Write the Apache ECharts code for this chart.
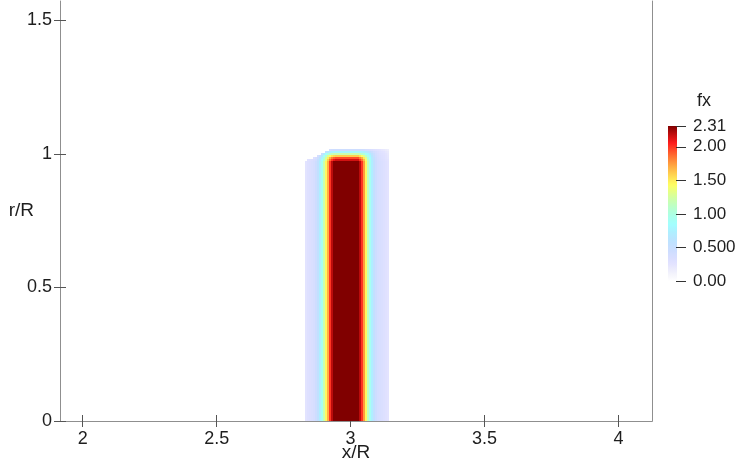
<!DOCTYPE html>
<html>
<head>
<meta charset="utf-8">
<script src="https://cdn.jsdelivr.net/npm/echarts@6/dist/echarts.min.js"></script>
<style>
  html, body { margin: 0; padding: 0; background: #ffffff; }
  #chart { width: 740px; height: 465px; }
</style>
</head>
<body>
<div id="chart"></div>
<script>
// x/R edges of the mesh columns crossed by the jet
const xEdges = [
  2.8300, 2.8375, 2.8450, 2.8525, 2.8600, 2.8675, 2.8750, 2.8825, 2.8900, 2.8975,
  2.9050, 2.9125, 2.9200, 2.9275, 2.9350, 2.9425, 2.9500, 2.9575, 2.9650, 2.9725,
  2.9800, 2.9875, 2.9950, 3.0025, 3.0100, 3.0175, 3.0250, 3.0325, 3.0400, 3.0475,
  3.0550, 3.0625, 3.0700, 3.0775, 3.0850, 3.0925, 3.1000, 3.1075, 3.1150, 3.1225,
  3.1300, 3.1375, 3.1450
];

// fx in each column, from the axis (r/R = 0) up to bodyTop
const bodyTop = 0.975;
const fxColumns = [
  0.26, 0.30, 0.32, 0.34, 0.37, 0.44, 0.55, 0.72, 0.92, 1.20, 1.45, 1.70, 2.00, 2.20,
  2.31, 2.31, 2.31, 2.31, 2.31, 2.31, 2.31, 2.31, 2.31, 2.31, 2.31, 2.31, 2.31,
  2.20, 2.00, 1.75, 1.45, 1.15, 0.92, 0.72, 0.55, 0.44, 0.38, 0.35, 0.33, 0.31, 0.28, 0.25
];

// r/R edges of the rows at the tip of the jet
const capEdges = [0.975, 0.9825, 0.990, 0.9975, 1.005, 1.0125, 1.020];

// fx in the tip rows (bottom row first); null = outside the mesh
const fxCap = [
  [null, 0.28, 0.30, 0.32, 0.35, 0.41, 0.52, 0.67, 0.86, 1.10, 1.35, 1.60, 1.85, 2.00,
   2.10, 2.15, 2.15, 2.15, 2.15, 2.15, 2.15, 2.15, 2.15, 2.15, 2.15, 2.15, 2.15,
   2.00, 1.85, 1.65, 1.40, 1.10, 0.90, 0.70, 0.54, 0.43, 0.37, 0.34, 0.32, 0.30, 0.27, 0.24],
  [null, null, null, null, 0.30, 0.36, 0.46, 0.60, 0.78, 1.00, 1.25, 1.48, 1.68, 1.82,
   1.90, 1.95, 1.95, 1.95, 1.95, 1.95, 1.95, 1.95, 1.95, 1.95, 1.95, 1.95, 1.95,
   1.82, 1.70, 1.50, 1.30, 1.05, 0.85, 0.68, 0.53, 0.42, 0.36, 0.33, 0.31, 0.29, 0.26, 0.23],
  [null, null, null, null, null, null, 0.38, 0.50, 0.66, 0.88, 1.08, 1.28, 1.42, 1.52,
   1.57, 1.60, 1.60, 1.60, 1.60, 1.60, 1.60, 1.60, 1.60, 1.60, 1.60, 1.60, 1.60,
   1.52, 1.42, 1.30, 1.12, 0.95, 0.80, 0.64, 0.50, 0.41, 0.35, 0.32, 0.30, 0.28, 0.25, 0.22],
  [null, null, null, null, null, null, null, null, 0.50, 0.68, 0.86, 0.98, 1.08, 1.14,
   1.18, 1.20, 1.20, 1.20, 1.20, 1.20, 1.20, 1.20, 1.20, 1.20, 1.20, 1.20, 1.20,
   1.15, 1.07, 1.00, 0.90, 0.80, 0.70, 0.58, 0.47, 0.39, 0.34, 0.31, 0.29, 0.27, 0.24, 0.21],
  [null, null, null, null, null, null, null, null, null, null, 0.55, 0.64, 0.72, 0.76,
   0.78, 0.80, 0.80, 0.80, 0.80, 0.80, 0.80, 0.80, 0.80, 0.80, 0.80, 0.80, 0.80,
   0.78, 0.75, 0.72, 0.68, 0.62, 0.55, 0.48, 0.41, 0.36, 0.32, 0.29, 0.27, 0.25, 0.22, 0.19],
  [null, null, null, null, null, null, null, null, null, null, null, null, 0.40, 0.43,
   0.45, 0.45, 0.45, 0.45, 0.45, 0.45, 0.45, 0.45, 0.45, 0.45, 0.45, 0.45, 0.45,
   0.45, 0.44, 0.42, 0.40, 0.38, 0.35, 0.33, 0.31, 0.29, 0.27, 0.25, 0.23, 0.21, 0.18, 0.15]
];

// axis and colour-bar ticks
const xTicks = [2, 2.5, 3, 3.5, 4];
const rTicks = [0, 0.5, 1, 1.5];
const fxTicks = [0, 0.5, 1, 1.5, 2, 2.31];
const fxRange = [0, 2.31];

// Jet colour map with a linear opacity ramp, composited on white
const JET = [
  [0.0, 0.0, 0.0, 0.5625], [0.1115, 0.0, 0.0, 1.0], [0.3655, 0.0, 1.0, 1.0],
  [0.4925, 0.5, 1.0, 0.5], [0.619, 1.0, 1.0, 0.0], [0.8885, 1.0, 0.0, 0.0],
  [1.0, 0.5, 0.0, 0.0]
];
function jetOnWhite(t) {
  let k = 0;
  while (k < JET.length - 2 && t > JET[k + 1][0]) k++;
  const a = JET[k], b = JET[k + 1];
  const f = Math.min(1, Math.max(0, (t - a[0]) / (b[0] - a[0])));
  const hex = [1, 2, 3].map(c => {
    const v = a[c] + (b[c] - a[c]) * f;
    const w = 1 - t * (1 - v);
    return Math.round(w * 255).toString(16).padStart(2, '0');
  });
  return '#' + hex.join('');
}
const STEPS = 64;
const palette = [];
for (let n = 0; n <= STEPS; n++) palette.push(jetOnWhite(n / STEPS));
const paletteStops = palette.map((c, n) => ({ offset: n / STEPS, color: c }));

// one rectangle per mesh cell: [x0, x1, r0, r1, fx]
const cells = [];
for (let i = 0; i < fxColumns.length; i++) {
  cells.push([xEdges[i], xEdges[i + 1], 0, bodyTop, fxColumns[i]]);
}
for (let k = 0; k < fxCap.length; k++) {
  for (let i = 0; i < fxCap[k].length; i++) {
    if (fxCap[k][i] !== null) {
      cells.push([xEdges[i], xEdges[i + 1], capEdges[k], capEdges[k + 1], fxCap[k][i]]);
    }
  }
}

const FONT = 'Liberation Sans';
const TEXT = '#1e1e1e';
const FRAME = '#8f8f8f';
const TICK = '#555555';
const X_RANGE = [1.9153, 4.1251];
const R_RANGE = [0, 1.573];
const BAR_TICK_LEN = 9;

const chart = echarts.init(document.getElementById('chart'), null, { renderer: 'canvas' });
chart.setOption({
  animation: false,
  backgroundColor: '#ffffff',
  grid: [
    { left: 60, top: 1, width: 592, height: 420, outerBoundsMode: 'none', containLabel: false },
    { left: 668, top: 126, width: 9, height: 155, outerBoundsMode: 'none', containLabel: false }
  ],
  xAxis: [
    {
      type: 'value', gridIndex: 0, position: 'bottom', min: X_RANGE[0], max: X_RANGE[1],
      name: 'x/R', nameLocation: 'middle', nameGap: 22, nameMoveOverlap: false,
      nameTextStyle: { fontFamily: FONT, fontSize: 19, color: TEXT, verticalAlign: 'top' },
      axisLine: { show: true, lineStyle: { color: FRAME, width: 1 } },
      axisTick: { show: true, inside: false, length: 6, customValues: xTicks, lineStyle: { color: TICK } },
      axisLabel: { show: true, margin: 9, customValues: xTicks, fontFamily: FONT, fontSize: 18, color: TEXT },
      splitLine: { show: false }
    },
    {
      type: 'value', gridIndex: 0, position: 'bottom', min: X_RANGE[0], max: X_RANGE[1],
      axisLine: { show: false },
      axisTick: { show: true, inside: true, length: 6, customValues: xTicks, lineStyle: { color: TICK } },
      axisLabel: { show: false }, splitLine: { show: false }
    },
    {
      type: 'value', gridIndex: 0, position: 'top', min: X_RANGE[0], max: X_RANGE[1],
      axisLine: { show: true, lineStyle: { color: FRAME, width: 1 } },
      axisTick: { show: false }, axisLabel: { show: false }, splitLine: { show: false }
    },
    {
      type: 'value', gridIndex: 1, min: 0, max: 1, show: false
    }
  ],
  yAxis: [
    {
      type: 'value', gridIndex: 0, position: 'left', min: R_RANGE[0], max: R_RANGE[1],
      name: 'r/R', nameLocation: 'middle', nameGap: 26, nameRotate: 0, nameMoveOverlap: false,
      nameTextStyle: { fontFamily: FONT, fontSize: 19, color: TEXT, align: 'right' },
      axisLine: { show: true, lineStyle: { color: FRAME, width: 1 } },
      axisTick: { show: true, inside: false, length: 6, customValues: rTicks, lineStyle: { color: TICK } },
      axisLabel: { show: true, margin: 8, customValues: rTicks, fontFamily: FONT, fontSize: 18, color: TEXT },
      splitLine: { show: false }
    },
    {
      type: 'value', gridIndex: 0, position: 'left', min: R_RANGE[0], max: R_RANGE[1],
      axisLine: { show: false },
      axisTick: { show: true, inside: true, length: 6, customValues: rTicks, lineStyle: { color: TICK } },
      axisLabel: { show: false }, splitLine: { show: false }
    },
    {
      type: 'value', gridIndex: 0, position: 'right', min: R_RANGE[0], max: R_RANGE[1],
      axisLine: { show: true, lineStyle: { color: FRAME, width: 1 } },
      axisTick: { show: false }, axisLabel: { show: false }, splitLine: { show: false }
    },
    {
      type: 'value', gridIndex: 1, position: 'right', min: fxRange[0], max: fxRange[1],
      name: 'fx', nameLocation: 'end', nameGap: 16, nameMoveOverlap: false,
      nameTextStyle: { fontFamily: FONT, fontSize: 18, color: TEXT, align: 'left', padding: [0, 0, 0, 29] },
      axisLine: { show: false },
      axisTick: { show: false },
      axisLabel: {
        show: true, margin: 16, customValues: fxTicks, fontFamily: FONT, fontSize: 17, color: TEXT,
        formatter: v => Number(v).toPrecision(3)
      },
      splitLine: { show: false }
    }
  ],
  visualMap: {
    type: 'continuous', show: false, seriesIndex: 0, dimension: 4,
    min: fxRange[0], max: fxRange[1],
    inRange: { color: palette }
  },
  series: [
    {
      type: 'custom', name: 'fx', xAxisIndex: 0, yAxisIndex: 0, silent: true,
      encode: { x: [0, 1], y: [2, 3] },
      data: cells,
      renderItem: (params, api) => {
        const a = api.coord([api.value(0), api.value(2)]);
        const b = api.coord([api.value(1), api.value(3)]);
        const x0 = Math.round(a[0]), x1 = Math.round(b[0]);
        const y0 = Math.round(b[1]), y1 = Math.round(a[1]);
        return {
          type: 'rect',
          shape: { x: x0, y: y0, width: x1 - x0, height: y1 - y0 },
          style: { fill: api.visual('color') }
        };
      }
    },
    {
      // colour bar with its tick marks
      type: 'custom', name: 'colour bar', xAxisIndex: 3, yAxisIndex: 3, silent: true,
      data: [[0, 1, fxRange[0], fxRange[1]]],
      renderItem: (params, api) => {
        const a = api.coord([api.value(0), api.value(2)]);
        const b = api.coord([api.value(1), api.value(3)]);
        const children = [{
          type: 'rect',
          shape: { x: a[0], y: b[1], width: b[0] - a[0], height: a[1] - b[1] },
          style: { fill: new echarts.graphic.LinearGradient(0, 1, 0, 0, paletteStops) }
        }];
        fxTicks.forEach(t => {
          const p = api.coord([1, t]);
          const y = Math.round(p[1]) + 0.5;
          children.push({
            type: 'line',
            shape: { x1: p[0] - 1, y1: y, x2: p[0] + BAR_TICK_LEN, y2: y },
            style: { stroke: '#333333', lineWidth: 1 }
          });
        });
        return { type: 'group', children };
      }
    }
  ]
});
</script>
</body>
</html>
